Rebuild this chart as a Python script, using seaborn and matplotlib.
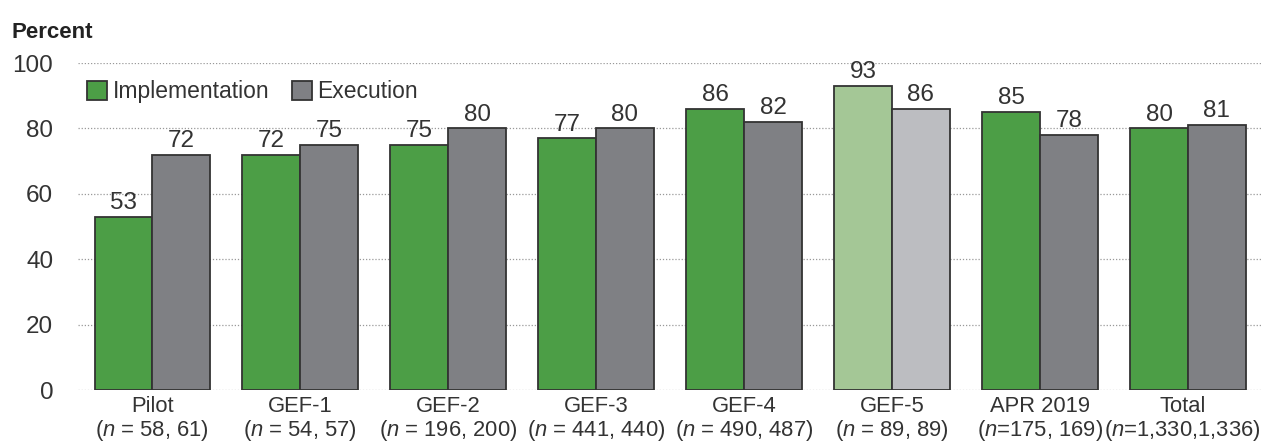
import numpy as np
import pandas as pd
import matplotlib
matplotlib.use("Agg")
import matplotlib.pyplot as plt
import matplotlib.transforms as mtransforms
import seaborn as sns

categories = ["Pilot", "GEF-1", "GEF-2", "GEF-3", "GEF-4", "GEF-5", "APR 2019", "Total"]
n_labels = ["($n$ = 58, 61)", "($n$ = 54, 57)", "($n$ = 196, 200)", "($n$ = 441, 440)",
            "($n$ = 490, 487)", "($n$ = 89, 89)", "($n$=175, 169)", "($n$=1,330,1,336)"]
implementation = [53, 72, 75, 77, 86, 93, 85, 80]
execution = [72, 75, 80, 80, 82, 86, 78, 81]
series = ["Implementation", "Execution"]

df = pd.DataFrame({
    "period": categories * 2,
    "series": [series[0]] * len(categories) + [series[1]] * len(categories),
    "value": implementation + execution,
})

sns.set_style("white")
plt.rcParams["font.family"] = ["Liberation Sans", "DejaVu Sans"]
plt.rcParams["mathtext.fontset"] = "custom"
plt.rcParams["mathtext.it"] = "Liberation Sans:italic"
plt.rcParams["mathtext.rm"] = "Liberation Sans"

green, grey = "#4c9e46", "#7f8084"
light_green, light_grey = "#a4c796", "#bcbdc1"
text_col = "#333333"

fig = plt.figure(figsize=(12.62, 4.47), dpi=100)
ax = fig.add_axes([0.062, 0.127, 0.938, 0.732])

sns.barplot(data=df, x="period", y="value", hue="series", order=categories,
            hue_order=series, palette=[green, grey], saturation=1, width=0.78,
            edgecolor="#333333", linewidth=1.3, ax=ax, zorder=3)

# lighter colours for GEF-5
gef5 = categories.index("GEF-5")
ax.containers[0][gef5].set_facecolor(light_green)
ax.containers[1][gef5].set_facecolor(light_grey)

for cont in ax.containers:
    ax.bar_label(cont, fmt="%d", padding=2, fontsize=17.5, color=text_col)

ax.set_ylim(0, 100)
ax.set_xlim(-0.5, 7.5)
ax.set_yticks(range(0, 101, 20))
ax.yaxis.grid(True, linestyle=(0, (1, 1.5)), color="#999999", linewidth=0.9, zorder=0)
ax.set_axisbelow(True)
for s in ax.spines.values():
    s.set_visible(False)
ax.tick_params(axis="both", length=0, colors=text_col)
ax.tick_params(axis="y", pad=18, labelsize=17.5)
ax.set_xticks(range(len(categories)))
ax.set_xticklabels([f"{c}\n{n}" for c, n in zip(categories, n_labels)],
                   fontsize=15.8, linespacing=1.08)
ax.tick_params(axis="x", pad=4)
ax.set_xlabel("")
ax.set_ylabel("")

# nudge the wide "Total" label a bit left so it stays inside the figure
last = ax.get_xticklabels()[-1]
last.set_transform(last.get_transform() +
                   mtransforms.ScaledTranslation(-4 / 72, 0, fig.dpi_scale_trans))

leg = ax.legend(loc="upper left", bbox_to_anchor=(0.0, 0.975), ncol=2, frameon=False,
                fontsize=16.5, handlelength=0.85, handleheight=0.85, handletextpad=0.25,
                columnspacing=1.0, borderaxespad=0)
for t in leg.get_texts():
    t.set_color(text_col)

fig.text(0.009, 0.915, "Percent", fontsize=16, fontweight="bold", color="#222222")

fig.savefig("out.png", dpi=100)
